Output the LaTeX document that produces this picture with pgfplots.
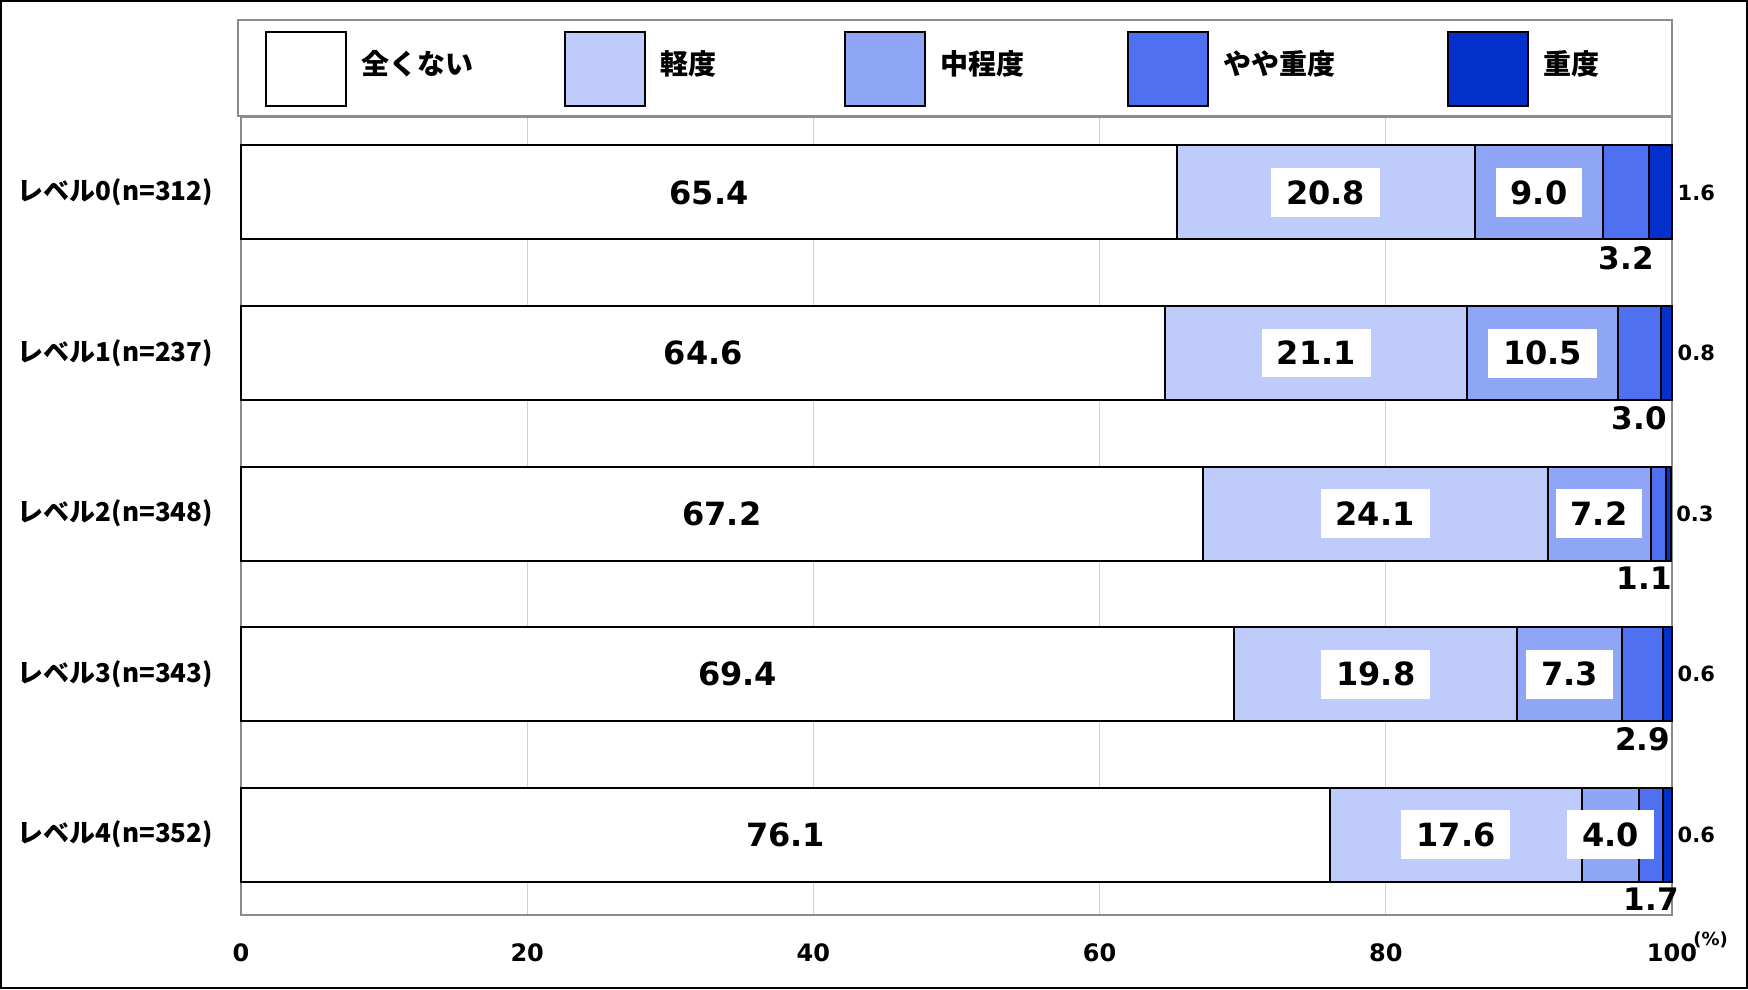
\documentclass[border=0pt]{standalone}
\usepackage{pgfplots}
\pgfplotsset{compat=1.18}
\usepackage{pgfplotstable}
\usepackage{fontspec}
\setmainfont{DejaVu Sans}
\newfontfamily\jp{Noto Sans CJK JP}
\definecolor{c2}{RGB}{191,203,250}
\definecolor{c3}{RGB}{143,165,245}
\definecolor{c4}{RGB}{79,112,240}
\definecolor{c5}{RGB}{4,48,204}
\pgfplotstableread{
y a b c d e dsh
0 65.4 20.8 9.0 3.2 1.6 0
1 64.6 21.1 10.5 3.0 0.8 0
2 67.2 24.1 7.2 1.1 0.3 -7
3 69.4 19.8 7.3 2.9 0.6 0
4 76.1 17.6 4.0 1.7 0.6 0
}\datatable
\begin{document}
\begin{tikzpicture}
\useasboundingbox (0,0) rectangle (874pt,494.5pt);
\begin{axis}[
  at={(120.5pt,37pt)}, anchor=south west,
  scale only axis, width=715.5pt, height=399pt,
  xbar stacked, bar width=47pt,
  xmin=0, xmax=100, ymin=-0.47, ymax=4.5, y dir=reverse,
  clip=false,
  xtick={0,20,40,60,80,100}, ytick={0,1,2,3,4},
  yticklabels={レベル0(n=312),レベル1(n=237),レベル2(n=348),レベル3(n=343),レベル4(n=352)},
  xmajorgrids, major grid style={black!18, line width=0.6pt},
  major tick length=0pt,
  axis line style={black!45, line width=0.6pt},
  /pgf/number format/assume math mode=true,
  yticklabel style={font=\jp\bfseries\fontsize{13}{15}\selectfont, xshift=-10.5pt},
  xticklabel style={font=\bfseries\fontsize{12}{14}\selectfont, yshift=-10.6pt},
  xlabel={(\%)},
  xlabel style={at={(axis description cs:1.027,-0.031)}, anchor=center, font=\bfseries\fontsize{9}{11}\selectfont},
  legend image code/.code={\draw[#1] (0pt,-21.2pt) rectangle (40pt,15.8pt);},
  legend columns=5,
  legend style={draw=none, fill=none, inner sep=0pt, nodes={inner sep=0pt},
    at={(axis description cs:0.01677,1.0602)}, anchor=west,
    font=\jp\bfseries\fontsize{14}{16}\selectfont,
    /tikz/every odd column/.append style={column sep=7pt}},
  legend cell align=left,
  point meta=explicit symbolic,
  nodes near coords,
]
\addplot[fill=white, draw=black, line width=1pt,
  nodes near coords style={font=\bfseries\fontsize{16}{18}\selectfont, text=black}]
  table[x=a, y=y, meta=a]{\datatable};
\addlegendentry{\makebox[101.5pt][l]{全くない}}
\addplot[fill=c2, draw=black, line width=1pt,
  nodes near coords style={font=\bfseries\fontsize{16}{18}\selectfont, text=black, fill=white, inner xsep=7.5pt, inner ysep=6.2pt}]
  table[x=b, y=y, meta=b]{\datatable};
\addlegendentry{\makebox[92pt][l]{軽度}}
\addplot[fill=c3, draw=black, line width=1pt,
  nodes near coords style={font=\bfseries\fontsize{16}{18}\selectfont, text=black, fill=white, inner xsep=7.5pt, inner ysep=6.2pt}]
  table[x=c, y=y, meta=c]{\datatable};
\addlegendentry{\makebox[93.5pt][l]{中程度}}
\addplot[fill=c4, draw=black, line width=1pt,
  visualization depends on={\thisrow{dsh} \as \dsh},
  nodes near coords style={font=\bfseries\fontsize{15.5}{17}\selectfont, text=black, anchor=north, yshift=-23pt, xshift=\dsh pt}]
  table[x=d, y=y, meta=d]{\datatable};
\addlegendentry{\makebox[112pt][l]{やや重度}}
\addplot[fill=c5, draw=black, line width=1pt,
  visualization depends on={\thisrow{e} \as \ev},
  nodes near coords style={font=\bfseries\fontsize{10.5}{12}\selectfont, text=black, anchor=west, xshift=\ev*3.5775pt-1pt}]
  table[x=e, y=y, meta=e]{\datatable};
\addlegendentry{重度}
\end{axis}
\draw[black!45, line width=0.6pt] (119pt,436.5pt) rectangle (836pt,484.5pt);
\draw[black, line width=1pt] (0.5pt,0.5pt) rectangle (873.5pt,494pt);
\end{tikzpicture}
\end{document}
